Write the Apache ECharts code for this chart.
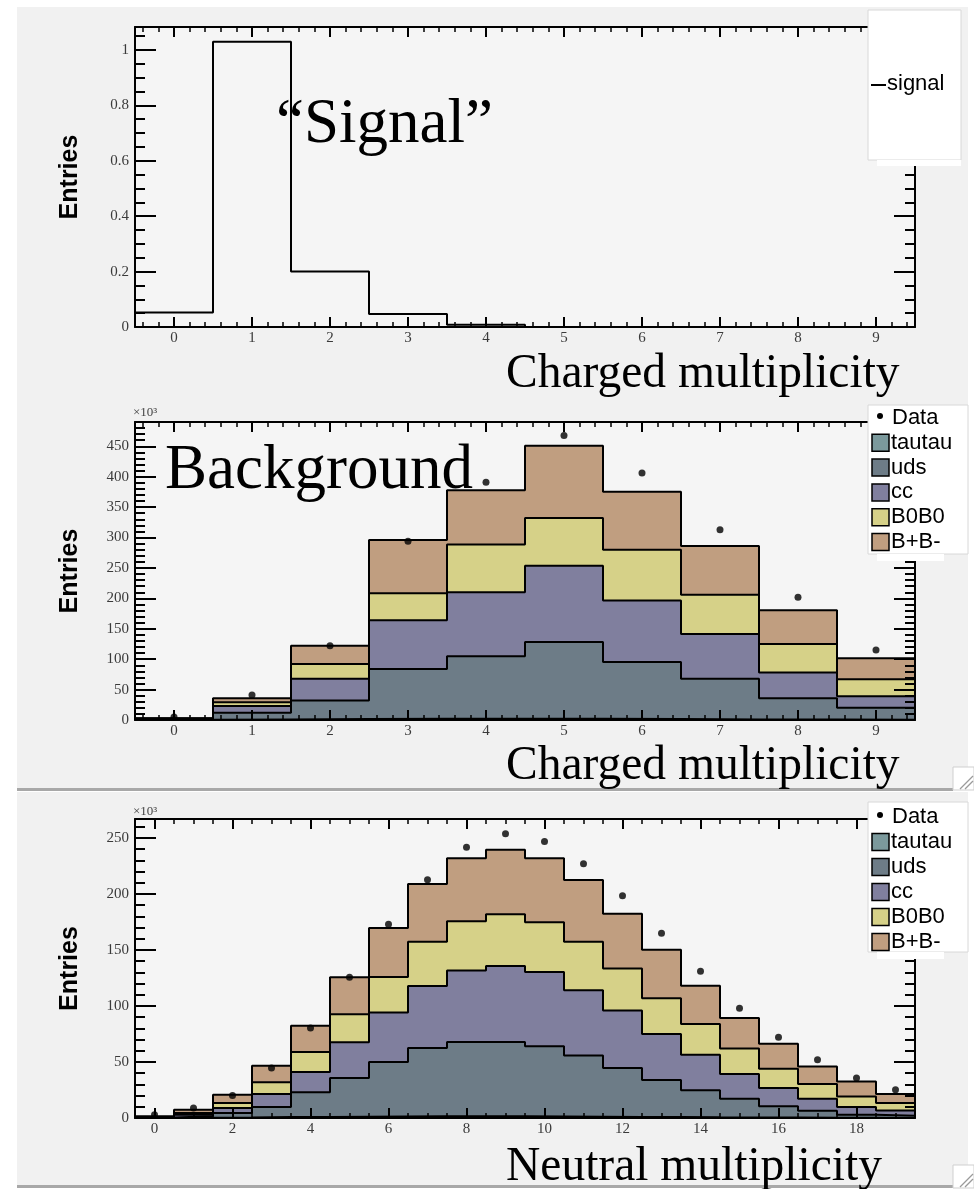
<!DOCTYPE html>
<html>
<head>
<meta charset="utf-8">
<script src="https://cdn.jsdelivr.net/npm/echarts@6/dist/echarts.min.js"></script>
<style>
  html, body { margin: 0; padding: 0; background: #ffffff; }
  #chart { width: 974px; height: 1189px; }
</style>
</head>
<body>
<div id="chart"></div>
<script>
// ---------------- bin contents ----------------
// charged multiplicity bins 0..9, neutral multiplicity bins 0..19
const chargedTicks = [0, 1, 2, 3, 4, 5, 6, 7, 8, 9];
const neutralTicks = [0, 2, 4, 6, 8, 10, 12, 14, 16, 18];
const signalYTicks = [0, 0.2, 0.4, 0.6, 0.8, 1];
const chargedYTicks = [0, 50, 100, 150, 200, 250, 300, 350, 400, 450];
const neutralYTicks = [0, 50, 100, 150, 200, 250];

// signal MC, charged multiplicity
const signalCharged = [0.052, 1.03, 0.2, 0.047, 0.008, 0, 0, 0, 0, 0];

// background MC (x10^3 entries), charged multiplicity
const chargedTautau = [0.3, 1.0, 1.5, 2.0, 2.0, 2.0, 1.5, 1.0, 0.8, 0.5];
const chargedUds    = [1.2, 11, 30.5, 82, 102.8, 126.4, 94, 67, 34.9, 19.8];
const chargedCc     = [0.5, 11, 36, 80, 105.2, 125.2, 101, 73.6, 42.3, 18.7];
const chargedB0B0   = [0.5, 6, 24, 44.6, 78.7, 78.4, 83.5, 64.2, 47, 28];
const chargedBpBm   = [0.5, 6.7, 30, 87.4, 88.9, 119, 95.4, 80.2, 55.6, 34.5];
const chargedData   = [5, 41, 122, 294, 391, 468, 406, 313, 202, 115];

// background MC (x10^3 entries), neutral multiplicity
const neutralTautau = [0.1, 0.3, 0.5, 0.8, 1.0, 1.2, 1.4, 1.5, 1.5, 1.5, 1.4, 1.2, 1.0, 0.8, 0.6, 0.5, 0.4, 0.3, 0.2, 0.1];
const neutralUds    = [0.4, 1.2, 4.0, 9.0, 22, 34.5, 48.6, 61, 66.4, 66.4, 62.6, 54.5, 43.6, 33.2, 24.1, 16.8, 10.0, 6.2, 2.8, 1.9];
const neutralCc     = [0.3, 1.5, 4.4, 11.6, 18, 31.9, 44.3, 55.4, 63.9, 67.8, 66.4, 58.3, 51.4, 41, 31.8, 22, 16.4, 10.8, 6.8, 4.8];
const neutralB0B0   = [0.2, 1.5, 4.5, 10.6, 18, 25, 31.7, 39.5, 43.8, 46.3, 44.3, 43.4, 37.6, 32, 27.5, 22.7, 17.2, 13.1, 9.5, 6.6];
const neutralBpBm   = [0.5, 2.9, 7.4, 14.7, 23.4, 33, 43.6, 51.6, 56.4, 57.6, 57.3, 55.1, 48.8, 43.3, 34, 27.3, 22.4, 15.6, 13.4, 8];
const neutralData   = [3, 9, 20, 44.6, 80.4, 125.6, 173, 212.8, 241.7, 253.9, 247, 227, 198.5, 165, 131, 98, 72, 52, 35.7, 25.3];

// stack components, bottom to top (legend order)
const componentNames  = ['tautau', 'uds', 'cc', 'B0B0', 'B+B-'];
const componentColors = ['#7b999c', '#6d7c87', '#807f9e', '#d6d188', '#c09e80'];

// ---------------- helpers ----------------
// histogram outline: one point per low bin edge plus the last high edge (step: 'end')
function histPoints(values, lowEdge) {
  const pts = values.map((v, i) => [lowEdge + i, v]);
  pts.push([lowEdge + values.length, values[values.length - 1]]);
  return pts;
}
// running sums of the stack layers, bottom to top
function cumulate(layers) {
  const out = [];
  let run = layers[0].map(() => 0);
  layers.forEach(l => { run = run.map((r, i) => r + l[i]); out.push(run); });
  return out;
}
function stepValues(lo, hi, step) {
  const out = [];
  for (let k = Math.ceil(lo / step - 1e-9); k <= Math.floor(hi / step + 1e-9); k++) {
    out.push(+(k * step).toFixed(6));
  }
  return out;
}

const panels = [
  { top: 27,  height: 300, xmin: -0.5, xmax: 9.5,  ymax: 1.083, xLabels: chargedTicks, xMinor: 0.2, yLabels: signalYTicks,  yMinor: 0.05 },
  { top: 422, height: 298, xmin: -0.5, xmax: 9.5,  ymax: 490,   xLabels: chargedTicks, xMinor: 0.2, yLabels: chargedYTicks, yMinor: 10 },
  { top: 819, height: 299, xmin: -0.5, xmax: 19.5, ymax: 267,   xLabels: neutralTicks, xMinor: 0.5, yLabels: neutralYTicks, yMinor: 10 }
];

const tickFont = { fontFamily: 'Liberation Serif', fontSize: 15, color: '#3a3a3a' };
const black = '#000';

const grids = [], xAxes = [], yAxes = [];
panels.forEach((p, g) => {
  grids.push({ left: 135, width: 780, top: p.top, height: p.height, show: true,
               backgroundColor: '#f5f5f5', borderWidth: 0 });
  const xb = { type: 'value', gridIndex: g, min: p.xmin, max: p.xmax, z: 5,
               splitLine: { show: false }, axisLabel: { show: false },
               axisTick: { show: false }, axisLine: { show: false, onZero: false } };
  const xMinorVals = stepValues(p.xmin, p.xmax, p.xMinor);
  // bottom: labels + major ticks
  xAxes.push(Object.assign({}, xb, { position: 'bottom',
    axisLine: { show: true, onZero: false, lineStyle: { color: black, width: 2 } },
    axisTick: { show: true, inside: true, length: 10, customValues: p.xLabels, lineStyle: { color: black, width: 2 } },
    axisLabel: Object.assign({ show: true, customValues: p.xLabels, margin: 4 }, tickFont) }));
  // bottom: minor ticks
  xAxes.push(Object.assign({}, xb, { position: 'bottom',
    axisTick: { show: true, inside: true, length: 5, customValues: xMinorVals, lineStyle: { color: black, width: 1.5 } } }));
  // top frame edge
  xAxes.push(Object.assign({}, xb, { position: 'top',
    axisLine: { show: true, onZero: false, lineStyle: { color: black, width: 2 } },
    axisTick: { show: true, inside: true, length: 10, customValues: p.xLabels, lineStyle: { color: black, width: 2 } } }));
  xAxes.push(Object.assign({}, xb, { position: 'top',
    axisTick: { show: true, inside: true, length: 5, customValues: xMinorVals, lineStyle: { color: black, width: 1.5 } } }));

  const yb = { type: 'value', gridIndex: g, min: 0, max: p.ymax, z: 5,
               splitLine: { show: false }, axisLabel: { show: false },
               axisTick: { show: false }, axisLine: { show: false, onZero: false } };
  const yMinorVals = stepValues(0, p.ymax, p.yMinor);
  yAxes.push(Object.assign({}, yb, { position: 'left',
    name: 'Entries', nameLocation: 'middle', nameRotate: 90, nameGap: 52,
    nameTextStyle: { fontFamily: 'Liberation Sans', fontWeight: 'bold', fontSize: 25, color: black },
    axisLine: { show: true, onZero: false, lineStyle: { color: black, width: 2 } },
    axisTick: { show: true, inside: true, length: 21, customValues: p.yLabels, lineStyle: { color: black, width: 2 } },
    axisLabel: Object.assign({ show: true, customValues: p.yLabels, margin: 6 }, tickFont) }));
  yAxes.push(Object.assign({}, yb, { position: 'left',
    axisTick: { show: true, inside: true, length: 10, customValues: yMinorVals, lineStyle: { color: black, width: 2 } } }));
  yAxes.push(Object.assign({}, yb, { position: 'right',
    axisLine: { show: true, onZero: false, lineStyle: { color: black, width: 2 } },
    axisTick: { show: true, inside: true, length: 21, customValues: p.yLabels, lineStyle: { color: black, width: 2 } } }));
  yAxes.push(Object.assign({}, yb, { position: 'right',
    axisTick: { show: true, inside: true, length: 10, customValues: yMinorVals, lineStyle: { color: black, width: 2 } } }));
});

// ---------------- series ----------------
const series = [];
series.push({
  name: 'signal', type: 'line', xAxisIndex: 0, yAxisIndex: 0,
  step: 'end', symbol: 'none', data: histPoints(signalCharged, -0.5),
  lineStyle: { color: black, width: 2 }, z: 3
});

function addStack(layers, data, g) {
  const tops = cumulate(layers);
  // draw from the full stack down to the bottom layer, each filled from zero
  for (let k = tops.length - 1; k >= 0; k--) {
    series.push({
      name: componentNames[k], type: 'line', xAxisIndex: g * 4, yAxisIndex: g * 4,
      step: 'end', symbol: 'none', data: histPoints(tops[k], -0.5),
      lineStyle: { color: black, width: 2 },
      itemStyle: { color: componentColors[k] },
      areaStyle: { color: componentColors[k], opacity: 1 },
      z: 2
    });
  }
  series.push({
    name: 'Data', type: 'scatter', xAxisIndex: g * 4, yAxisIndex: g * 4,
    symbol: 'circle', symbolSize: 7, itemStyle: { color: black },
    data: data.map((v, i) => [i, v]), z: 4
  });
}
addStack([chargedTautau, chargedUds, chargedCc, chargedB0B0, chargedBpBm], chargedData, 1);
addStack([neutralTautau, neutralUds, neutralCc, neutralB0B0, neutralBpBm], neutralData, 2);

// ---------------- canvas decorations: pads, labels, legends ----------------
const graphics = [];
// pad backgrounds and separators
graphics.push({ type: 'rect', z: -10, shape: { x: 17, y: 7, width: 951, height: 781 }, style: { fill: '#f1f1f1' } });
graphics.push({ type: 'rect', z: -10, shape: { x: 17, y: 792, width: 951, height: 393 }, style: { fill: '#f1f1f1' } });
graphics.push({ type: 'rect', z: -9, shape: { x: 17, y: 788, width: 936, height: 3 }, style: { fill: '#a8a8a8' } });
graphics.push({ type: 'rect', z: -9, shape: { x: 17, y: 1185, width: 936, height: 3 }, style: { fill: '#a8a8a8' } });
// resize grips in the pad corners
[767, 1165].forEach(y => {
  graphics.push({ type: 'rect', z: 50, shape: { x: 953, y: y, width: 21, height: 23 }, style: { fill: '#ffffff', stroke: '#cfcfcf', lineWidth: 1 } });
  graphics.push({ type: 'line', z: 51, shape: { x1: 960, y1: y + 22, x2: 973, y2: y + 9 }, style: { stroke: '#9a9a9a', lineWidth: 1.2 } });
  graphics.push({ type: 'line', z: 51, shape: { x1: 965, y1: y + 22, x2: 973, y2: y + 14 }, style: { stroke: '#9a9a9a', lineWidth: 1.2 } });
});

// large serif annotations; (x, baseline) given, converted to the text box top
function bigText(text, x, baseline, size) {
  graphics.push({ type: 'text', z: 60, x: x, y: baseline - 0.77 * size,
    style: { text: text, fontFamily: 'Liberation Serif', fontSize: size, fill: '#000',
             align: 'left', verticalAlign: 'top' } });
}
bigText('\u201CSignal\u201D', 276, 142, 63);
bigText('Background', 165, 488, 63);
bigText('Charged multiplicity', 506, 387, 47.5);
bigText('Charged multiplicity', 506, 779, 47.5);
bigText('Neutral multiplicity', 506, 1180, 47.5);

// axis scale factor labels
[[133, 413], [133, 812]].forEach(([x, y]) => {
  graphics.push({ type: 'text', z: 60, x: x, y: y,
    style: { text: '\u00D710\u00B3', fontFamily: 'Liberation Serif', fontSize: 13, fill: '#444',
             align: 'left', verticalAlign: 'middle' } });
});

const legendFont = { fontFamily: 'Liberation Sans', fontSize: 22, fill: '#000', verticalAlign: 'middle', align: 'left' };
// signal legend
graphics.push({ type: 'rect', z: 70, shape: { x: 868, y: 10, width: 93, height: 150 }, style: { fill: '#ffffff', stroke: '#d8d8d8', lineWidth: 1 } });
graphics.push({ type: 'rect', z: 70, shape: { x: 877, y: 160, width: 84, height: 6 }, style: { fill: '#ffffff' } });
graphics.push({ type: 'line', z: 71, shape: { x1: 871, y1: 85, x2: 886, y2: 85 }, style: { stroke: '#000', lineWidth: 2 } });
graphics.push({ type: 'text', z: 71, x: 887, y: 84, style: Object.assign({ text: 'signal' }, legendFont) });

// background legends
function stackLegend(top, height, first, gap) {
  graphics.push({ type: 'rect', z: 70, shape: { x: 868, y: top, width: 100, height: height }, style: { fill: '#ffffff', stroke: '#d8d8d8', lineWidth: 1 } });
  graphics.push({ type: 'rect', z: 70, shape: { x: 877, y: top + height, width: 67, height: 7 }, style: { fill: '#ffffff' } });
  graphics.push({ type: 'circle', z: 71, shape: { cx: 880, cy: first - 2, r: 3 }, style: { fill: '#000' } });
  graphics.push({ type: 'text', z: 71, x: 892, y: first, style: Object.assign({ text: 'Data' }, legendFont) });
  componentNames.forEach((name, k) => {
    const cy = first + (k + 1) * gap;
    graphics.push({ type: 'rect', z: 71, shape: { x: 872, y: cy - 8.5, width: 17, height: 17 },
      style: { fill: componentColors[k], stroke: '#000', lineWidth: 1.5 } });
    graphics.push({ type: 'text', z: 71, x: 891, y: cy, style: Object.assign({ text: name }, legendFont) });
  });
}
stackLegend(405, 149, 418, 24.8);
stackLegend(802, 150, 817, 25);

const chart = echarts.init(document.getElementById('chart'));
chart.setOption({
  animation: false,
  backgroundColor: '#ffffff',
  grid: grids,
  xAxis: xAxes,
  yAxis: yAxes,
  series: series,
  graphic: { elements: graphics }
});
</script>
</body>
</html>
